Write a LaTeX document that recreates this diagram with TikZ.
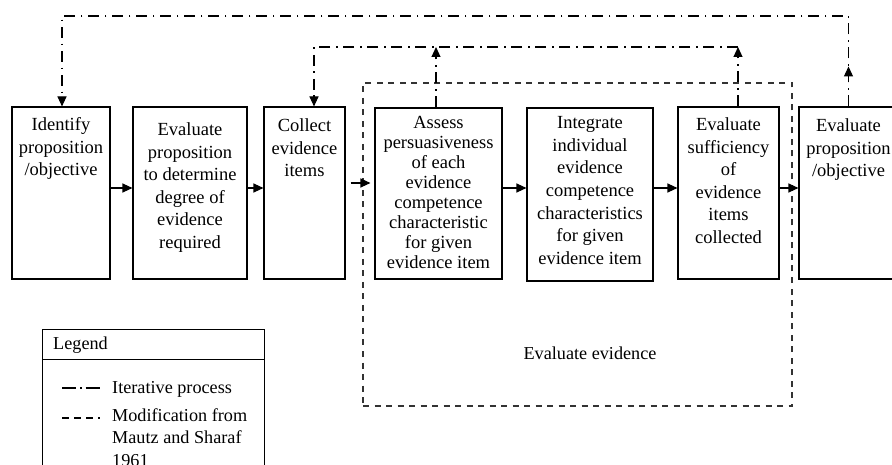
\documentclass[tikz,border=0pt]{standalone}
\usepackage{fontspec}
\setmainfont{Liberation Serif}
\usetikzlibrary{arrows.meta}
\tikzset{
  box/.style={draw, line width=1.1pt, inner sep=0pt},
  txt/.style={align=center, inner sep=0pt, anchor=north, font=\fontsize{18.5}{22.6}\selectfont},
  txtt/.style={align=center, inner sep=0pt, anchor=north, font=\fontsize{18.5}{20}\selectfont},
  ltxt/.style={align=left, inner sep=0pt, font=\fontsize{18.2}{22.5}\selectfont},
  tip/.style={-{Triangle[length=10pt,width=9pt]}},
  arr/.style={line width=1.1pt, tip},
  iter/.style={line width=1.1pt, dash pattern=on 11pt off 5.5pt on 1.5pt off 6pt},
  modif/.style={line width=1.1pt, black!80, dash pattern=on 6pt off 5.5pt},
}
\begin{document}
\begin{tikzpicture}[x=1pt,y=-1pt]
\useasboundingbox (0,0) rectangle (892,465);
\clip (0,0) rectangle (892,465);

% dashed evaluation region
\node[modif, draw, inner sep=0pt, minimum width=429pt, minimum height=323pt] (ev) at (577.5,244.5) {};
\node[ltxt] (evl) at (590,353) {Evaluate evidence};

% process boxes
\node[box, minimum width=98pt,  minimum height=172pt] (b1) at (61,193) {};
\node[box, minimum width=114pt, minimum height=172pt] (b2) at (190,193) {};
\node[box, minimum width=81pt,  minimum height=172pt] (b3) at (304.5,193) {};
\node[box, minimum width=127pt, minimum height=171pt] (b4) at (438.5,193.5) {};
\node[box, minimum width=126pt, minimum height=173pt] (b5) at (590,194.5) {};
\node[box, minimum width=101pt, minimum height=172pt] (b6) at (728.5,193) {};
\node[box, minimum width=99pt,  minimum height=172pt] (b7) at (848.5,193) {};

\node[txt] (t1) at ([yshift=-11pt]b1.north) {Identify\\proposition\\/objective};
\node[txt] (t2) at ([yshift=-16pt]b2.north) {Evaluate\\proposition\\to determine\\degree of\\evidence\\required};
\node[txt] (t3) at ([yshift=-12pt]b3.north) {Collect\\evidence\\items};
\node[txtt] (t4) at ([yshift=-9pt]b4.north) {Assess\\persuasiveness\\of each\\evidence\\competence\\characteristic\\for given\\evidence item};
\node[txt] (t5) at ([yshift=-9pt]b5.north) {Integrate\\individual\\evidence\\competence\\characteristics\\for given\\evidence item};
\node[txt] (t6) at ([yshift=-11pt]b6.north) {Evaluate\\sufficiency\\of\\evidence\\items\\collected};
\node[txt] (t7) at ([yshift=-12pt]b7.north) {Evaluate\\proposition\\/objective};

% main flow arrows
\draw[arr] (b1.east |- 0,188) -- (b2.west |- 0,188);
\draw[arr] (b2.east |- 0,188) -- (b3.west |- 0,188);
\draw[arr, shorten <=5pt, shorten >=4pt] (b3.east |- 0,183) -- (b4.west |- 0,183);
\draw[arr] (b4.east |- 0,188) -- (b5.west |- 0,188);
\draw[arr] (b5.east |- 0,188) -- (b6.west |- 0,188);
\draw[arr] (b6.east |- 0,188) -- (b7.west |- 0,188);

% iterative loops
\coordinate (top1) at (0,16);
\coordinate (top2) at (0,47);
\coordinate (p1) at ([xshift=1pt]b1.north);
\coordinate (p3) at ([xshift=9.5pt]b3.north);
\coordinate (p4) at ([xshift=-2.5pt]b4.north);
\coordinate (p6) at ([xshift=9.5pt]b6.north);
\coordinate (p7) at (b7.north);

\draw[iter, tip] (p7) -- (p7 |- top1) -- (p1 |- top1) -- (p1);
\draw[iter, tip] (p7) -- ([yshift=40pt]p7);

\draw[iter, tip] (p6) -- (p6 |- top2);
\draw[iter, tip] (p6 |- top2) -- (p3 |- top2) -- (p3);
\draw[iter, tip] (p4) -- (p4 |- top2);

% legend
\node[draw, line width=1pt, inner sep=0pt, minimum width=222pt, minimum height=170pt, anchor=north west] (leg) at (42,329) {};
\draw[line width=1pt] (leg.north west |- 0,359) -- (leg.north east |- 0,359);
\node[ltxt, anchor=base west] (lt) at (53,349) {Legend};
\draw[line width=1.1pt, dash pattern=on 14pt off 4pt on 1.5pt off 4pt] (62,388) -- (100,388);
\node[ltxt, anchor=base west] (l1) at (112,393) {Iterative process};
\draw[line width=1.1pt, dash pattern=on 7pt off 5pt] (62,418) -- (100,418);
\node[ltxt, anchor=north west] (l2) at (112,408) {Modification from\\Mautz and Sharaf\\1961};
\end{tikzpicture}
\end{document}
